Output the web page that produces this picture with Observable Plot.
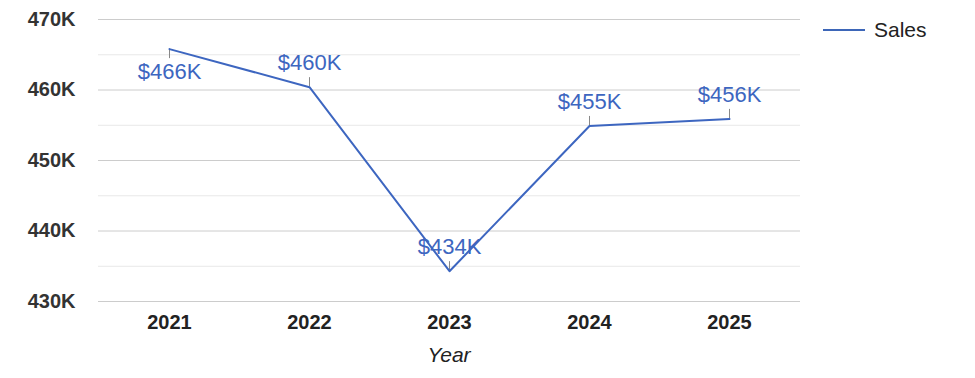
<!DOCTYPE html>
<html>
<head>
<meta charset="utf-8">
<script src="https://cdn.jsdelivr.net/npm/d3@7"></script>
<script src="https://cdn.jsdelivr.net/npm/@observablehq/plot@0.6"></script>
<style>
  html, body { margin: 0; padding: 0; background: #fff; }
  #wrap { position: relative; width: 975px; height: 378px; font-family: "Liberation Sans", Arial, sans-serif; }
  #legend { position: absolute; left: 823px; top: 17px; display: flex; align-items: center; font-size: 21px; line-height: 26px; color: #222; }
  #legend .sw { width: 42px; height: 2px; background: #3d66b8; margin-right: 9px; }
</style>
</head>
<body>
<div id="wrap">
  <div id="chart"></div>
  <div id="legend"><span class="sw"></span><span>Sales</span></div>
</div>
<script>
const years = ["2021", "2022", "2023", "2024", "2025"];
const sales = [465.8, 460.4, 434.3, 454.9, 455.9];
const labels = ["$466K", "$460K", "$434K", "$455K", "$456K"];
const labelBelow = [true, false, false, false, false];
const yTicks = [430, 440, 450, 460, 470];
const yMinor = [435, 445, 455, 465];

const data = years.map((y, i) => ({year: y, value: sales[i], label: labels[i], below: labelBelow[i]}));
const blue = "#3d66c0";
const tickLen = 1.35;

const chart = Plot.plot({
  width: 975,
  height: 378,
  marginLeft: 98,
  marginRight: 175,
  marginTop: 19,
  marginBottom: 77,
  style: {fontFamily: "'Liberation Sans', Arial, sans-serif", background: "#fff"},
  x: {type: "band", domain: years, padding: 0, label: null},
  y: {domain: [430, 470], label: null},
  marks: [
    Plot.ruleY(yMinor, {stroke: "#e8e8e8", strokeOpacity: 1}),
    Plot.ruleY(yTicks, {stroke: "#cccccc", strokeOpacity: 1}),
    Plot.axisY(yTicks, {tickSize: 0, tickPadding: 23, fontSize: 20, fontWeight: "bold", fill: "#333", tickFormat: d => d + "K"}),
    Plot.axisX({tickSize: 0, tickPadding: 13, fontSize: 20, fontWeight: "bold", fill: "#222", label: null}),
    Plot.ruleX(data, {x: "year", y1: "value", y2: d => d.below ? d.value - tickLen : d.value + tickLen, stroke: "#888", strokeWidth: 1}),
    Plot.line(data, {x: "year", y: "value", stroke: blue, strokeWidth: 2}),
    Plot.text(data.filter(d => !d.below), {x: "year", y: "value", text: "label", dy: -24, fill: blue, fontSize: 22}),
    Plot.text(data.filter(d => d.below), {x: "year", y: "value", text: "label", dy: 23, fill: blue, fontSize: 22})
  ]
});
document.getElementById("chart").appendChild(chart);

// x-axis title below tick labels
const svg = d3.select(chart);
svg.append("text")
  .attr("x", 98 + (975 - 98 - 175) / 2)
  .attr("y", 362)
  .attr("text-anchor", "middle")
  .attr("font-size", 21)
  .attr("font-style", "italic")
  .attr("fill", "#222")
  .text("Year");
</script>
</body>
</html>
